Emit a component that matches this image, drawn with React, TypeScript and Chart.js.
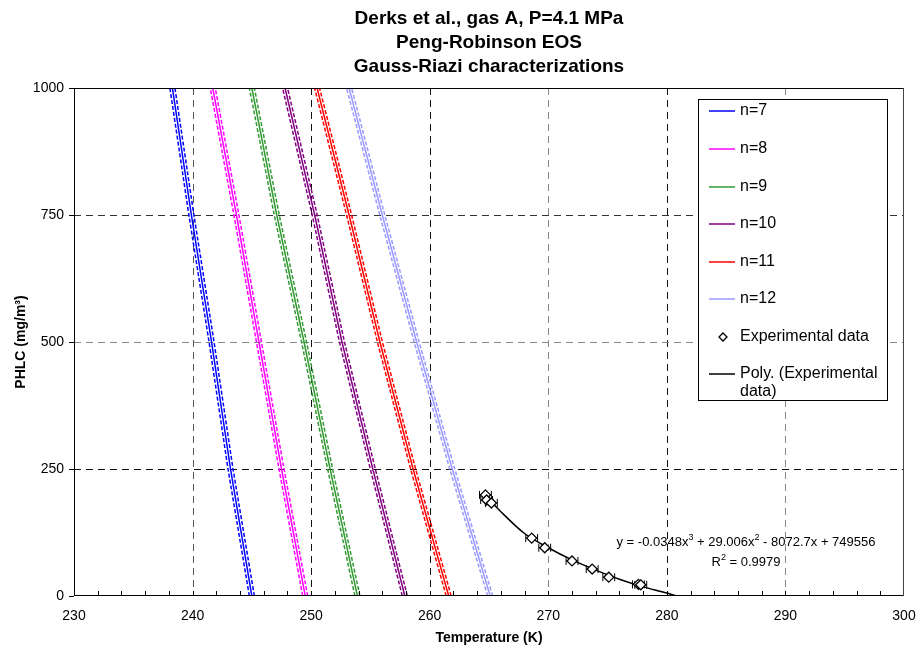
import React, { useEffect, useRef } from 'react';
import { Chart, registerables } from 'chart.js';

Chart.register(...registerables);

const FONT = "Arial, 'Liberation Sans', Helvetica, sans-serif";

const TITLE_LINES = ['Derks et al., gas A, P=4.1 MPa', 'Peng-Robinson EOS', 'Gauss-Riazi characterizations'];
const X_TITLE = 'Temperature (K)';
const Y_TITLE = 'PHLC (mg/m³)';

// PHLC levels at which the model curves were read
const PHLC_LEVELS = [0, 250, 500, 750, 1000];
const N_LABELS = ['n=7', 'n=8', 'n=9', 'n=10', 'n=11', 'n=12'];
const N_COLORS = ['#0000FF', '#FF00FF', '#339933', '#800080', '#FF0000', '#9999FF'];
const T_N7 = [245.0, 243.2, 241.6, 239.9, 238.3];
const T_N8 = [249.5, 247.5, 245.6, 243.7, 241.7];
const T_N9 = [253.9, 251.6, 249.4, 247.1, 245.0];
const T_N10 = [257.9, 255.2, 252.6, 250.3, 247.8];
const T_N11 = [261.6, 258.6, 255.8, 253.2, 250.5];
const T_N12 = [265.1, 261.9, 258.9, 256.0, 253.2];
const N_SERIES = [T_N7, T_N8, T_N9, T_N10, T_N11, T_N12];

// experimental data
const EXP_T = [264.7, 264.8, 265.2, 268.6, 269.7, 272.0, 273.7, 275.1, 277.6, 277.8];
const EXP_PHLC = [199, 189, 183, 114, 95, 69, 53, 37, 23, 22];
const EXP_T_ERR = [0.5, 0.5, 0.5, 0.5, 0.5, 0.5, 0.5, 0.5, 0.5, 0.5];

// polynomial trendline
const POLY_T = [264.6, 266.0, 268.0, 270.0, 272.0, 274.0, 276.0, 278.0, 280.0, 280.8];
const POLY_PHLC = [200, 166, 123, 95, 71, 51, 33, 18, 6, 0];

const X_TICKS_MAJOR = [240, 250, 260, 270, 280, 290];
const X_GRID_COLORS = ['#555', '#111', '#111', '#888', '#111', '#888'];
const Y_GRID = [250, 500, 750];
const Y_GRID_COLORS = ['#111', '#888', '#333'];
const X_MINOR_STEP = 2;

const EQ_PARTS: [string, boolean][] = [
  ['y = -0.0348x', false], ['3', true], [' + 29.006x', false], ['2', true], [' - 8072.7x + 749556', false],
];
const R2_PARTS: [string, boolean][] = [['R', false], ['2', true], [' = 0.9979', false]];

const LEGEND_ITEMS = [
  ...N_LABELS.map((l, i) => ({ text: [l], kind: 'line', color: N_COLORS[i] })),
  { text: ['Experimental data'], kind: 'diamond', color: '#000' },
  { text: ['Poly. (Experimental', 'data)'], kind: 'line', color: '#000' },
];

function drawRich(ctx: CanvasRenderingContext2D, parts: [string, boolean][], cx: number, cy: number, size: number) {
  const sup = Math.round(size * 0.7);
  let total = 0;
  const widths = parts.map(([t, s]) => {
    ctx.font = `${s ? sup : size}px ${FONT}`;
    const w = ctx.measureText(t).width;
    total += w;
    return w;
  });
  let x = cx - total / 2;
  ctx.textAlign = 'left';
  ctx.textBaseline = 'middle';
  parts.forEach(([t, s], i) => {
    ctx.font = `${s ? sup : size}px ${FONT}`;
    ctx.fillText(t, x, s ? cy - size * 0.38 : cy);
    x += widths[i];
  });
}

const bandShiftPlugin = {
  id: 'bandShift',
  beforeDatasetDraw(chart: any, args: any) {
    const ds = chart.data.datasets[args.index];
    if (ds.pxShift) {
      chart.ctx.save();
      chart.ctx.translate(ds.pxShift, 0);
    }
  },
  afterDatasetDraw(chart: any, args: any) {
    const ds = chart.data.datasets[args.index];
    if (ds.pxShift) chart.ctx.restore();
  },
};

const decorPlugin = {
  id: 'decor',
  beforeDatasetsDraw(chart: any) {
    const { ctx, chartArea: a, scales } = chart;
    const x = scales.x, y = scales.y;
    ctx.save();
    ctx.lineWidth = 1;
    ctx.setLineDash([7, 5]);
    X_TICKS_MAJOR.forEach((v, i) => {
      const px = Math.round(x.getPixelForValue(v)) + 0.5;
      ctx.strokeStyle = X_GRID_COLORS[i];
      ctx.beginPath(); ctx.moveTo(px, a.top); ctx.lineTo(px, a.bottom); ctx.stroke();
    });
    Y_GRID.forEach((v, i) => {
      const py = Math.round(y.getPixelForValue(v)) + 0.5;
      ctx.strokeStyle = Y_GRID_COLORS[i];
      ctx.beginPath(); ctx.moveTo(a.left, py); ctx.lineTo(a.right, py); ctx.stroke();
    });
    ctx.setLineDash([]);
    // error bars
    ctx.strokeStyle = '#000';
    ctx.lineWidth = 1;
    EXP_T.forEach((t, i) => {
      const x0 = x.getPixelForValue(t - EXP_T_ERR[i]);
      const x1 = x.getPixelForValue(t + EXP_T_ERR[i]);
      const py = y.getPixelForValue(EXP_PHLC[i]);
      ctx.beginPath();
      ctx.moveTo(x0, py); ctx.lineTo(x1, py);
      ctx.moveTo(x0, py - 4); ctx.lineTo(x0, py + 4);
      ctx.moveTo(x1, py - 4); ctx.lineTo(x1, py + 4);
      ctx.stroke();
    });
    ctx.restore();
  },
  afterDatasetsDraw(chart: any) {
    const { ctx, chartArea: a, scales } = chart;
    const x = scales.x, y = scales.y;
    ctx.save();
    // frame
    ctx.lineWidth = 1;
    ctx.strokeStyle = '#000';
    ctx.beginPath();
    ctx.moveTo(a.left + 0.5, a.top + 0.5);
    ctx.lineTo(a.right - 0.5, a.top + 0.5);
    ctx.moveTo(a.left + 0.5, a.top);
    ctx.lineTo(a.left + 0.5, a.bottom);
    ctx.moveTo(a.left, a.bottom - 0.5);
    ctx.lineTo(a.right, a.bottom - 0.5);
    ctx.stroke();
    ctx.strokeStyle = '#444';
    ctx.beginPath();
    ctx.moveTo(a.right - 0.5, a.top);
    ctx.lineTo(a.right - 0.5, a.bottom);
    ctx.stroke();
    // y ticks (outward)
    ctx.strokeStyle = '#000';
    ctx.beginPath();
    for (let v = 0; v <= 1000; v += 250) {
      const py = Math.round(y.getPixelForValue(v)) + 0.5;
      ctx.moveTo(a.left - 5, py); ctx.lineTo(a.left, py);
    }
    // x minor ticks (inward)
    for (let v = x.min + X_MINOR_STEP; v < x.max; v += X_MINOR_STEP) {
      const px = Math.round(x.getPixelForValue(v)) + 0.5;
      ctx.moveTo(px, a.bottom); ctx.lineTo(px, a.bottom - 5);
    }
    ctx.stroke();

    // legend
    const lx = 698, ly = 99, lw = 189, lh = 301;
    ctx.fillStyle = '#fff';
    ctx.fillRect(lx, ly, lw, lh);
    ctx.strokeStyle = '#000';
    ctx.strokeRect(lx + 0.5, ly + 0.5, lw, lh);
    const rowY = [111, 149, 187, 224, 262, 299, 337, 374];
    ctx.font = `16px ${FONT}`;
    ctx.textBaseline = 'middle';
    ctx.textAlign = 'left';
    LEGEND_ITEMS.forEach((it, i) => {
      const cy = rowY[i];
      if (it.kind === 'line') {
        ctx.strokeStyle = it.color;
        ctx.lineWidth = 1.5;
        ctx.beginPath(); ctx.moveTo(709, cy); ctx.lineTo(735, cy); ctx.stroke();
      } else {
        ctx.strokeStyle = '#000';
        ctx.lineWidth = 1.3;
        ctx.fillStyle = '#fff';
        ctx.beginPath();
        ctx.moveTo(723, cy - 4); ctx.lineTo(727, cy); ctx.lineTo(723, cy + 4); ctx.lineTo(719, cy); ctx.closePath();
        ctx.fill(); ctx.stroke();
      }
      ctx.fillStyle = '#000';
      it.text.forEach((t, k) => ctx.fillText(t, 740, cy + k * 18));
    });

    // trendline equation
    ctx.fillStyle = '#000';
    drawRich(ctx, EQ_PARTS, 746, 542, 13);
    drawRich(ctx, R2_PARTS, 746, 562, 13);

    // title
    ctx.font = `bold 19px ${FONT}`;
    ctx.textAlign = 'center';
    ctx.textBaseline = 'middle';
    const cx = (a.left + a.right) / 2;
    TITLE_LINES.forEach((t, i) => ctx.fillText(t, cx, 19 + i * 24));
    ctx.restore();
  },
};

export default function App() {
  const ref = useRef<HTMLCanvasElement | null>(null);
  useEffect(() => {
    document.body.style.margin = '0';
    const canvas = ref.current;
    if (!canvas) return;
    const datasets: any[] = [];
    N_SERIES.forEach((temps, i) => {
      [-2.5, 0, 2.5].forEach((shift) => {
        datasets.push({
          label: N_LABELS[i],
          data: temps.map((t, j) => ({ x: t, y: PHLC_LEVELS[j] })),
          showLine: true,
          pointRadius: 0,
          borderColor: N_COLORS[i],
          backgroundColor: N_COLORS[i],
          borderWidth: 1.5,
          borderDash: shift === 0 ? [] : [4, 2],
          pxShift: shift,
          fill: false,
        });
      });
    });
    datasets.push({
      label: 'Poly. (Experimental data)',
      data: POLY_T.map((t, j) => ({ x: t, y: POLY_PHLC[j] })),
      showLine: true,
      pointRadius: 0,
      borderColor: '#000',
      borderWidth: 1.5,
      cubicInterpolationMode: 'monotone',
    });
    datasets.unshift({
      label: 'Experimental data',
      data: EXP_T.map((t, j) => ({ x: t, y: EXP_PHLC[j] })),
      showLine: false,
      pointStyle: 'rectRot',
      pointRadius: 5,
      backgroundColor: '#fff',
      borderColor: '#000',
      borderWidth: 1.3,
    });

    const chart = new Chart(canvas, {
      type: 'scatter',
      data: { datasets },
      options: {
        responsive: false,
        animation: false,
        layout: { padding: { left: 0, right: 14, top: 88, bottom: 0 } },
        plugins: {
          legend: { display: false },
          title: { display: false },
          tooltip: { enabled: false },
        },
        scales: {
          x: {
            type: 'linear',
            min: 230,
            max: 300,
            ticks: {
              stepSize: 10, color: '#000', font: { family: FONT, size: 14 }, padding: 12,
              callback: (v: any) => String(v),
            },
            grid: { display: false, drawTicks: false },
            border: { display: false },
            title: {
              display: true,
              text: X_TITLE,
              color: '#000',
              font: { family: FONT, size: 14, weight: 'bold' },
              padding: { top: 0, bottom: 5 },
            },
            afterFit: (s: any) => { s.height = 56; s.paddingLeft = 0; s.paddingRight = 0; },
          },
          y: {
            type: 'linear',
            min: 0,
            max: 1000,
            ticks: {
              stepSize: 250, color: '#000', font: { family: FONT, size: 14 }, padding: 10,
              callback: (v: any) => String(v),
            },
            grid: { display: false, drawTicks: false },
            border: { display: false },
            title: {
              display: true,
              text: Y_TITLE,
              color: '#000',
              font: { family: FONT, size: 14, weight: 'bold' },
              padding: { top: 13, bottom: 0 },
            },
            afterFit: (s: any) => { s.width = 74; s.paddingTop = 0; s.paddingBottom = 0; },
          },
        },
      } as any,
      plugins: [bandShiftPlugin, decorPlugin],
    });
    return () => chart.destroy();
  }, []);
  return <canvas ref={ref} width={918} height={652} style={{ display: 'block' }} />;
}
